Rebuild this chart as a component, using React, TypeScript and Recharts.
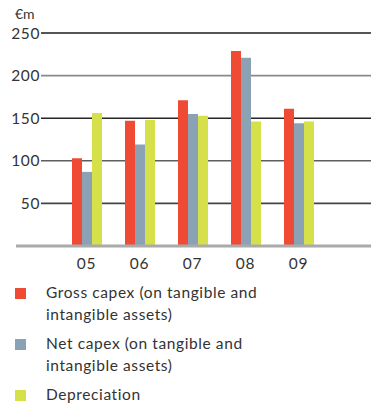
import { BarChart, Bar, XAxis, YAxis, CartesianGrid } from 'recharts';

const years = ['05', '06', '07', '08', '09'];
const grossCapex = [103, 147, 171, 229, 161];
const netCapex = [87, 119, 155, 221, 144];
const depreciation = [156, 148, 153, 146, 146];
const yTicks = [0, 50, 100, 150, 200, 250];

const series = [
  { key: 'gross', name: ['Gross capex (on tangible and', 'intangible assets)'], color: '#ee4a34' },
  { key: 'net', name: ['Net capex (on tangible and', 'intangible assets)'], color: '#8ba2b5' },
  { key: 'dep', name: ['Depreciation'], color: '#d5e04b' },
];

const gridColors: Record<number, string> = {
  250: '#1e1e1e',
  200: '#8a8a8a',
  150: '#262626',
  100: '#5e5e5e',
  50: '#444',
};

const data = years.map((year, i) => ({
  year,
  gross: grossCapex[i],
  net: netCapex[i],
  dep: depreciation[i],
}));

const FONT = 'Lato, "Open Sans", sans-serif';

const YTick = (props: any) => {
  const { y, payload } = props;
  const v = payload.value;
  if (v <= 0) return <g />;
  return (
    <text x={40} y={y} dy="0.36em" textAnchor="end" fontSize={15.5} fill="#333" fontFamily={FONT} letterSpacing={0.6}>
      {v}
    </text>
  );
};

// grid lines drawn behind the bars, one colour per tick value
const GridLine = (props: any) => {
  const v = yTicks[props.index];
  if (!v) return <g key={props.key} />;
  return (
    <line
      key={props.key}
      x1={props.x1}
      x2={props.x2}
      y1={props.y1}
      y2={props.y2}
      stroke={gridColors[v] || '#444'}
      strokeWidth={1.6}
    />
  );
};

export default function App() {
  return (
    <div style={{ position: 'absolute', left: 0, top: 0, width: 374, height: 404, background: '#fff', fontFamily: FONT }}>
      <div style={{ position: 'absolute', left: 15, top: 5, fontSize: 14, color: '#333' }}>€m</div>
      <BarChart
        width={374}
        height={280}
        data={data}
        margin={{ top: 33, right: 3, left: 15, bottom: 0 }}
        barGap={0}
        barSize={10}
      >
        <CartesianGrid x={41} width={330} vertical={false} horizontal={GridLine} />
        <YAxis
          domain={[0, 250]}
          ticks={yTicks}
          width={1}
          axisLine={false}
          tickLine={false}
          tick={YTick}
          interval={0}
        />
        <XAxis
          dataKey="year"
          height={34}
          padding={{ left: 44, right: 46 }}
          axisLine={{ stroke: '#aaa', strokeWidth: 3 }}
          tickLine={false}
          tickSize={0}
          tickMargin={12}
          tick={{ fontSize: 15.5, fill: '#333', fontFamily: FONT, letterSpacing: 0.8 }}
        />
        {series.map((s) => (
          <Bar key={s.key} dataKey={s.key} fill={s.color} isAnimationActive={false} />
        ))}
      </BarChart>
      <div style={{ position: 'absolute', left: 15, top: 282, fontSize: 15.5, color: '#333', lineHeight: '21.5px', letterSpacing: 0.6 }}>
        {series.map((s) => (
          <div key={s.key} style={{ display: 'flex', alignItems: 'flex-start', marginBottom: 8 }}>
            <span style={{ width: 11, height: 11, background: s.color, marginTop: 6, flexShrink: 0 }} />
            <span style={{ marginLeft: 20 }}>
              {s.name.map((line) => (
                <div key={line}>{line}</div>
              ))}
            </span>
          </div>
        ))}
      </div>
    </div>
  );
}
